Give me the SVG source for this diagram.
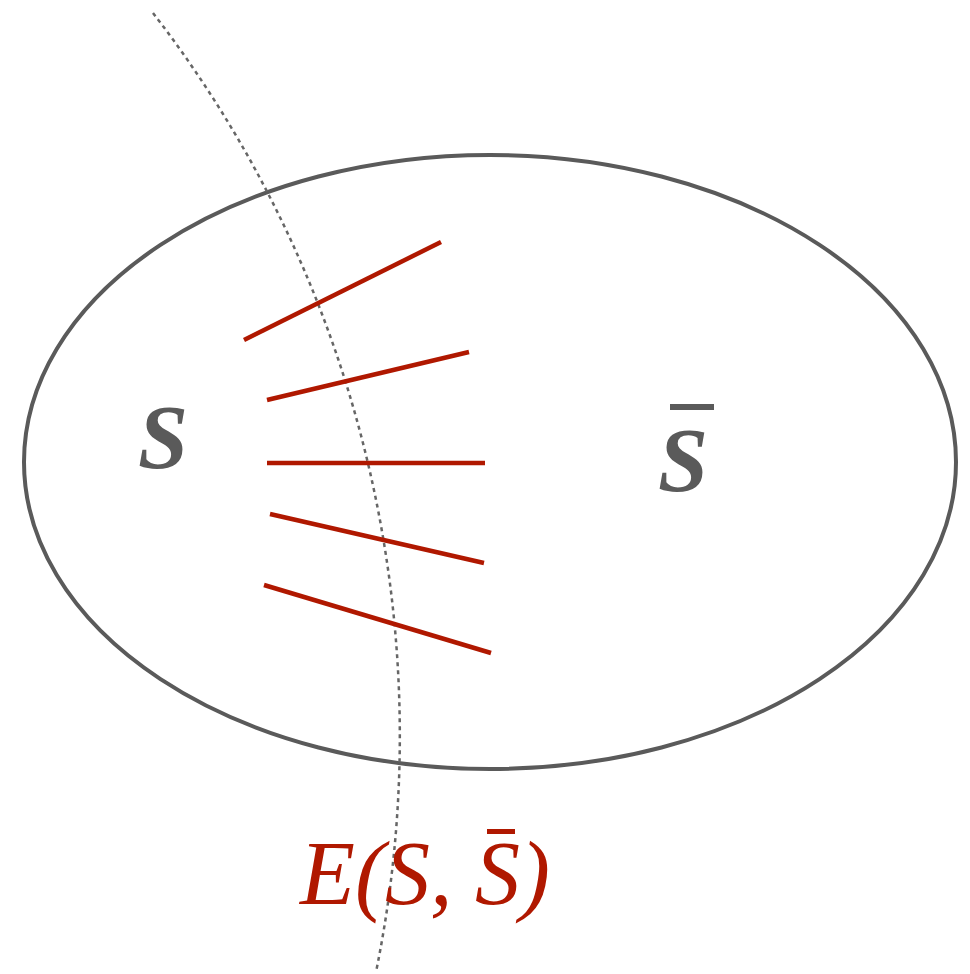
<svg xmlns="http://www.w3.org/2000/svg" width="970" height="974" viewBox="0 0 970 974">
<rect width="970" height="974" fill="#ffffff"/>
<g id="set">
<ellipse cx="490" cy="462" rx="466" ry="307" fill="none" stroke="#5a5a5a" stroke-width="4"/>
</g>
<g id="cut">
<path d="M153,13 A1182,1182 0 0 1 376,972" fill="none" stroke="#666666" stroke-width="2.5" stroke-dasharray="4,4"/>
</g>
<g id="edges" stroke="#b01800" stroke-width="4.5" fill="none">
<line x1="244" y1="340" x2="441" y2="242"/>
<line x1="267" y1="400" x2="469" y2="352"/>
<line x1="267" y1="463" x2="485" y2="463"/>
<line x1="270" y1="514" x2="484" y2="563"/>
<line x1="264" y1="585" x2="491" y2="653"/>
</g>
<g id="S" fill="#5a5a5a">
<text x="138" y="468" font-size="90" font-family="Liberation Serif" font-style="italic" font-weight="bold">S</text>
</g>
<g id="Sbar" fill="#5a5a5a">
<text x="658" y="491" font-size="90" font-family="Liberation Serif" font-style="italic" font-weight="bold">S</text>
<rect x="670" y="404" width="44" height="6"/>
</g>
<g id="cutlabel" fill="#b01800">
<text x="300" y="904" font-size="90" font-family="Liberation Serif" font-style="italic">E(S, S)</text>
<rect x="487" y="829" width="28" height="5"/>
</g>
</svg>
